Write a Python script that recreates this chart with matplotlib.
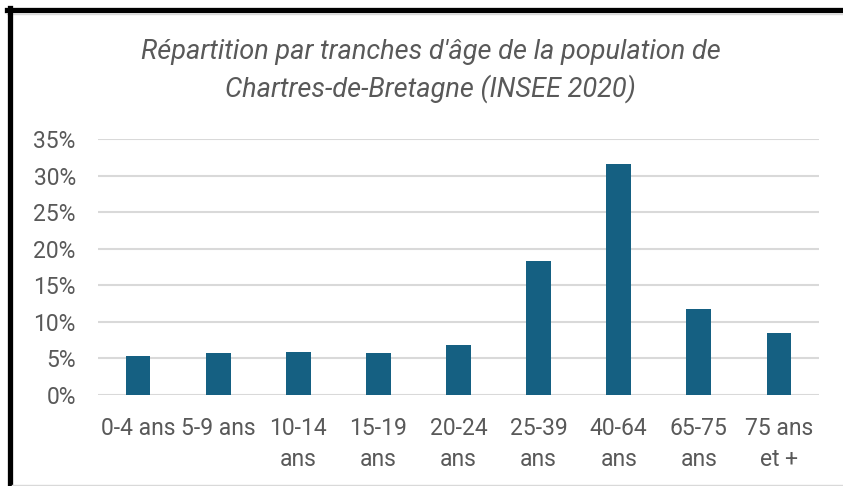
import numpy as np
import matplotlib.pyplot as plt
from matplotlib.lines import Line2D
from matplotlib.ticker import FuncFormatter

# tranches d'âge et part de la population (%)
tranches = ['0-4 ans', '5-9 ans', '10-14\nans', '15-19\nans', '20-24\nans',
            '25-39\nans', '40-64\nans', '65-75\nans', '75 ans\net +']
parts = [5.4, 5.7, 5.9, 5.7, 6.8, 18.3, 31.6, 11.8, 8.5]
yticks = [0, 5, 10, 15, 20, 25, 30, 35]

gris = '#595959'
plt.rcParams['font.family'] = ['Roboto', 'DejaVu Sans']

fig = plt.figure(figsize=(8.43, 4.86), dpi=100)
ax = fig.add_axes([98/843, 1-395/486, (819-98)/843, (395-139)/486])

x = np.arange(len(tranches))
ax.bar(x, parts, width=0.31, color='#156082', zorder=3)

ax.set_xlim(-0.5, len(tranches)-0.5)
ax.set_ylim(0, 35)
ax.set_yticks(yticks)
ax.yaxis.set_major_formatter(FuncFormatter(lambda v, p: f"{v:.0f}%"))
ax.set_xticks(x)
ax.set_xticklabels(tranches, linespacing=1.45)
ax.tick_params(axis='both', length=0, colors=gris, labelsize=16.5)
ax.tick_params(axis='y', pad=16)
ax.tick_params(axis='x', pad=15.5)
ax.grid(axis='y', color='#D9D9D9', linewidth=1.5, zorder=0)
for s in ax.spines.values():
    s.set_visible(False)

fig.text(0.511, 1-71/486,
         "Répartition par tranches d'âge de la population de\nChartres-de-Bretagne (INSEE 2020)",
         ha='center', va='center', fontsize=19.5, style='italic', color=gris,
         linespacing=1.42)

# cadre
fig.add_artist(Line2D([7/843, 1], [1-10.5/486, 1-10.5/486], color='black', lw=3.8))
fig.add_artist(Line2D([7/843, 1], [1-14/486, 1-14/486], color='#D9D9D9', lw=1))
fig.add_artist(Line2D([9.5/843, 9.5/843], [0, 1-8/486], color='black', lw=3.8))
fig.add_artist(Line2D([12/843, 1], [1-485/486, 1-485/486], color='#D9D9D9', lw=1))

fig.savefig('out.png', dpi=100)
